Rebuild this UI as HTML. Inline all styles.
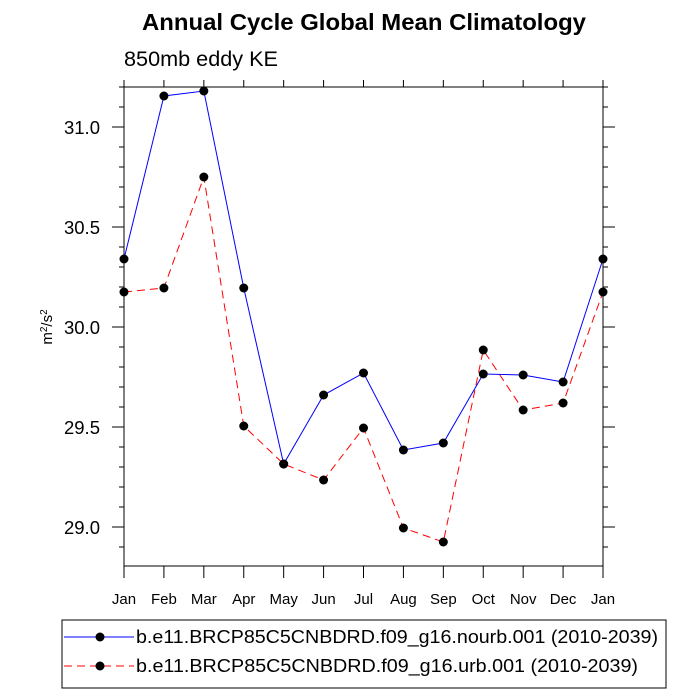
<!DOCTYPE html>
<html><head><meta charset="utf-8"><style>body{margin:0;background:#fff}svg{display:block;font-family:"Liberation Sans",sans-serif}</style></head>
<body>
<svg id="chart" width="700" height="700">
<text x="142" y="30" textLength="444" lengthAdjust="spacingAndGlyphs" font-size="23" font-weight="bold">Annual Cycle Global Mean Climatology</text>
<text x="124" y="66" textLength="154" lengthAdjust="spacingAndGlyphs" font-size="21">850mb eddy KE</text>
<text transform="translate(52,327) rotate(-90)" text-anchor="middle" font-size="15">m<tspan dy="-5" font-size="10">2</tspan><tspan dy="5">/s</tspan><tspan dy="-5" font-size="10">2</tspan></text>
<g id="axes"></g><g id="series"></g>
<rect x="62" y="620" width="604" height="68" fill="none" stroke="#000" stroke-width="1"/>
<g>
<line x1="64" y1="637" x2="134" y2="637" stroke="#0000ff" stroke-width="1"/><circle cx="100" cy="637" r="4.5"/>
<text x="136" y="643" font-size="18" textLength="522" lengthAdjust="spacingAndGlyphs">b.e11.BRCP85C5CNBDRD.f09_g16.nourb.001 (2010-2039)</text></g>
<g>
<line x1="64" y1="666" x2="134" y2="666" stroke="#ff0000" stroke-width="1" stroke-dasharray="8,5"/><circle cx="100" cy="666" r="4.5"/>
<text x="136" y="672" font-size="18" textLength="502" lengthAdjust="spacingAndGlyphs">b.e11.BRCP85C5CNBDRD.f09_g16.urb.001 (2010-2039)</text></g>
</svg>
<script>
const months=["Jan","Feb","Mar","Apr","May","Jun","Jul","Aug","Sep","Oct","Nov","Dec","Jan"];
const nourb=[30.34,31.155,31.18,30.195,29.315,29.66,29.77,29.385,29.42,29.765,29.76,29.725,30.34];
const urb=[30.175,30.195,30.75,29.505,29.315,29.235,29.495,28.995,28.925,29.885,29.585,29.62,30.175];
const yTicks=["29.0","29.5","30.0","30.5","31.0"];
const L=124,R=603,T=87,B=566,yMin=28.805,yMax=31.2;
const xs=i=>L+(R-L)*i/(months.length-1);
const ys=v=>B-(v-yMin)/(yMax-yMin)*(B-T);
const NS="http://www.w3.org/2000/svg";
function mk(t,a,p){const e=document.createElementNS(NS,t);for(const k in a)e.setAttribute(k,a[k]);p.appendChild(e);return e;}
const ax=document.getElementById('axes');
const fr=mk('rect',{x:L,y:T,width:R-L,height:B-T,fill:'none',stroke:'#000','stroke-width':1},ax);


months.forEach((m,i)=>{const x=xs(i);
mk('line',{x1:x,y1:B,x2:x,y2:B+12,stroke:'#000'},ax);
mk('line',{x1:x,y1:T,x2:x,y2:T-7,stroke:'#000'},ax);
const t=mk('text',{x:x,y:B+38,'text-anchor':'middle','font-size':15},ax);t.textContent=m;

});
for(let v=28.9;v<=31.2+1e-9;v+=0.1){const y=ys(v);const maj=Math.abs(v*2-Math.round(v*2))<1e-6;const len=maj?12:5;
mk('line',{x1:L-len,y1:y,x2:L,y2:y,stroke:'#000'},ax);mk('line',{x1:R,y1:y,x2:R+len,y2:y,stroke:'#000'},ax);}
yTicks.forEach(s=>{const t=mk('text',{x:L-24,y:ys(parseFloat(s))+7,'text-anchor':'end','font-size':18.5},ax);t.textContent=s;

});
const sg=document.getElementById('series');
function draw(vals,color,dash,name){const g=mk('g',{},sg);


const a={points:vals.map((v,i)=>xs(i)+','+ys(v)).join(' '),fill:'none',stroke:color,'stroke-width':1};if(dash)a['stroke-dasharray']=dash;mk('polyline',a,g);
vals.forEach((v,i)=>mk('circle',{cx:xs(i),cy:ys(v),r:4.5,fill:'#000'},g));}
draw(urb,'#ff0000','8,5','series-urb');
draw(nourb,'#0000ff',null,'series-nourb');
</script>
</body></html>
